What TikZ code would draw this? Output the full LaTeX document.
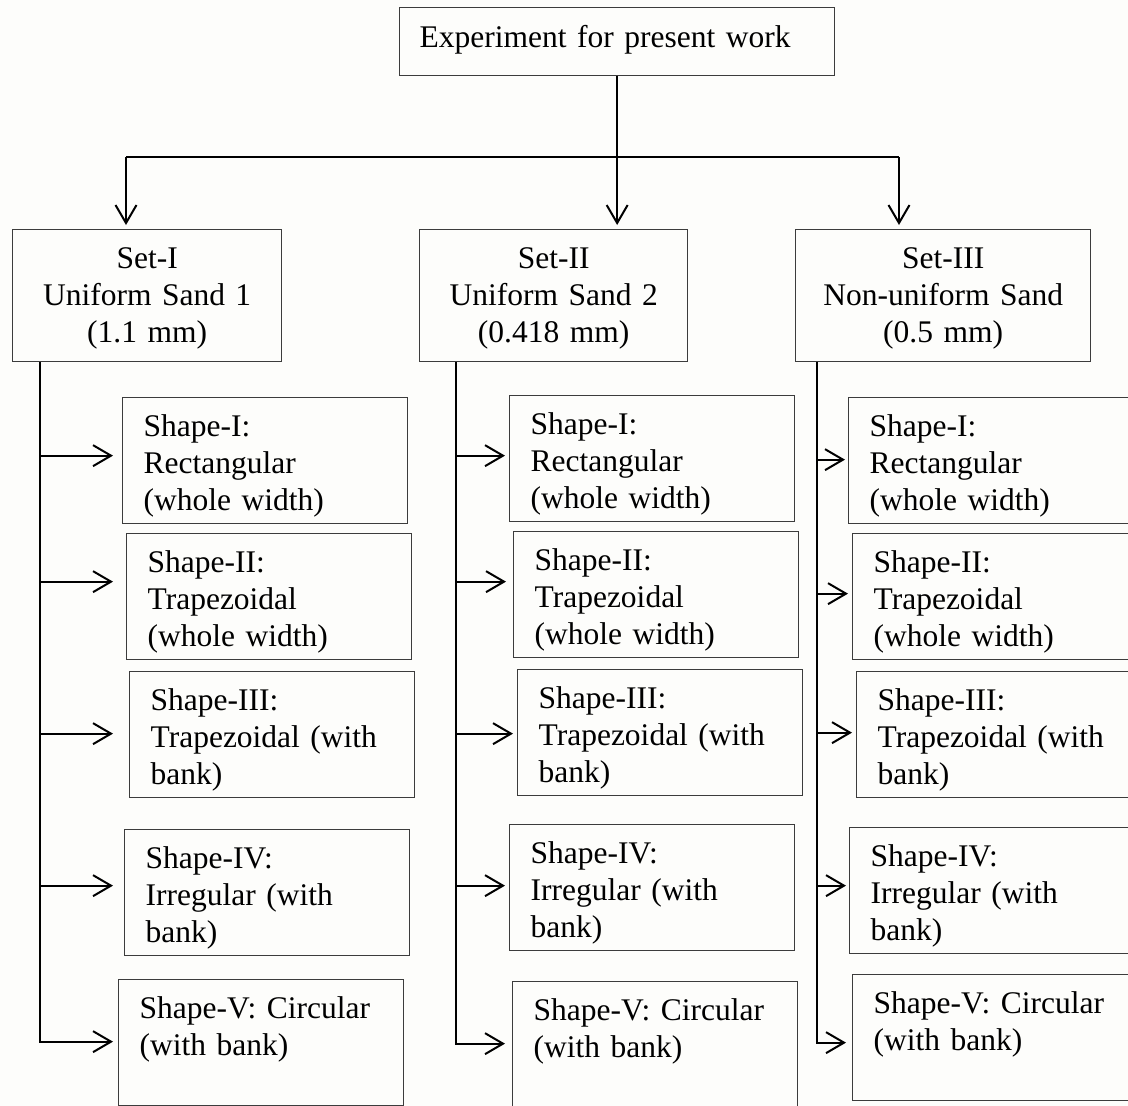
\documentclass[tikz,border=0pt]{standalone}
\usepackage{fontspec}
\setmainfont{Liberation Serif}
\usetikzlibrary{arrows.meta}
\definecolor{boxgray}{HTML}{3C3C3C}
\definecolor{bgcol}{HTML}{FDFDFB}
\newcommand\TopS{\rule[-12pt]{0pt}{36pt}}
\newcommand\SetT{\rule{0pt}{28.4pt}}
\newcommand\SetB{\rule[-9pt]{0pt}{0pt}}
\newcommand\ShT{\rule{0pt}{32.4pt}}
\newcommand\ShB{\rule[-7pt]{0pt}{0pt}}
\begin{document}
\begin{tikzpicture}[x=1pt,y=-1pt,
  every node/.style={font=\fontsize{31.5}{36.7}\selectfont},
  box/.style={draw=boxgray, line width=1.3pt, rectangle, anchor=north west, inner ysep=0pt},
  topbox/.style={box, minimum width=435pt, minimum height=68pt, inner xsep=20pt, text width=395pt, align=left},
  setbox/.style={box, minimum height=132pt, inner xsep=6pt, align=center},
  shapebox/.style={box, minimum width=285pt, minimum height=126pt, inner xsep=21pt, text width=243pt, align=left},
  conn/.style={line width=2pt, black},
  arr/.style={conn, -{Straight Barb[length=18pt,width=21pt]}}]
\clip (0,0) rectangle (1128,1106);
\fill[bgcol] (0,0) rectangle (1128,1106);

% top
\node[topbox] (top) at (399,7) {\TopS Experiment for present work};

% sets
\node[setbox, minimum width=269pt, text width=257pt] (set1) at (12,229) {\SetT Set-I\\Uniform Sand 1\\(1.1 mm)\SetB};
\node[setbox, minimum width=268pt, text width=256pt] (set2) at (419,229) {\SetT Set-II\\Uniform Sand 2\\(0.418 mm)\SetB};
\node[setbox, minimum width=295pt, text width=283pt] (set3) at (795,229) {\SetT Set-III\\Non-uniform Sand\\(0.5 mm)\SetB};

% column 1
\node[shapebox] (s11) at (122,397) {\ShT Shape-I:\\Rectangular\\(whole width)\ShB};
\node[shapebox] (s12) at (126,533) {\ShT Shape-II:\\Trapezoidal\\(whole width)\ShB};
\node[shapebox] (s13) at (129,671) {\ShT Shape-III:\\Trapezoidal (with\\bank)\ShB};
\node[shapebox] (s14) at (124,829) {\ShT Shape-IV:\\Irregular (with\\bank)\ShB};
\node[shapebox] (s15) at (118,979) {\ShT Shape-V: Circular\\(with bank)\\\ShB};

% column 2
\node[shapebox] (s21) at (509,395) {\ShT Shape-I:\\Rectangular\\(whole width)\ShB};
\node[shapebox] (s22) at (513,531) {\ShT Shape-II:\\Trapezoidal\\(whole width)\ShB};
\node[shapebox] (s23) at (517,669) {\ShT Shape-III:\\Trapezoidal (with\\bank)\ShB};
\node[shapebox] (s24) at (509,824) {\ShT Shape-IV:\\Irregular (with\\bank)\ShB};
\node[shapebox] (s25) at (512,981) {\ShT Shape-V: Circular\\(with bank)\\\ShB};

% column 3
\node[shapebox] (s31) at (848,397) {\ShT Shape-I:\\Rectangular\\(whole width)\ShB};
\node[shapebox] (s32) at (852,533) {\ShT Shape-II:\\Trapezoidal\\(whole width)\ShB};
\node[shapebox] (s33) at (856,671) {\ShT Shape-III:\\Trapezoidal (with\\bank)\ShB};
\node[shapebox] (s34) at (849,827) {\ShT Shape-IV:\\Irregular (with\\bank)\ShB};
\node[shapebox] (s35) at (852,974) {\ShT Shape-V: Circular\\(with bank)\\\ShB};

% top connectors
\coordinate (hl) at (126,157);
\coordinate (hr) at (899,157);
\draw[conn] (hl) -- (hr);
\draw[arr, shorten >=4pt] (top.south) -- (top.south |- set2.north);
\draw[arr, shorten >=4pt] (hl) -- (hl |- set1.north);
\draw[arr, shorten >=4pt] (hr) -- (hr |- set3.north);

% branches
\coordinate (b1) at ([xshift=28pt]set1.south west);
\coordinate (b2) at ([xshift=37pt]set2.south west);
\coordinate (b3) at ([xshift=22pt]set3.south west);
\draw[arr, shorten >=5pt] (b1) |- ([yshift=1pt]s15.west);
\draw[arr, shorten >=7pt] (b2) |- ([yshift=1pt]s25.west);
\draw[arr, shorten >=6pt] (b3) |- ([yshift=-5pt]s35.west);
\foreach \n/\b/\dy/\g in {s11/b1/5/9, s12/b1/15/13, s13/b1/1/16, s14/b1/7/11,
                          s21/b2/3/4, s22/b2/13/7, s23/b2/-1/4, s24/b2/2/4,
                          s31/b3/1/3, s32/b3/3/4, s33/b3/2/4, s34/b3/5/3}
  \draw[arr, shorten >=\g pt] ([yshift=\dy pt]\b |- \n.west) -- ([yshift=\dy pt]\n.west);
\end{tikzpicture}
\end{document}
